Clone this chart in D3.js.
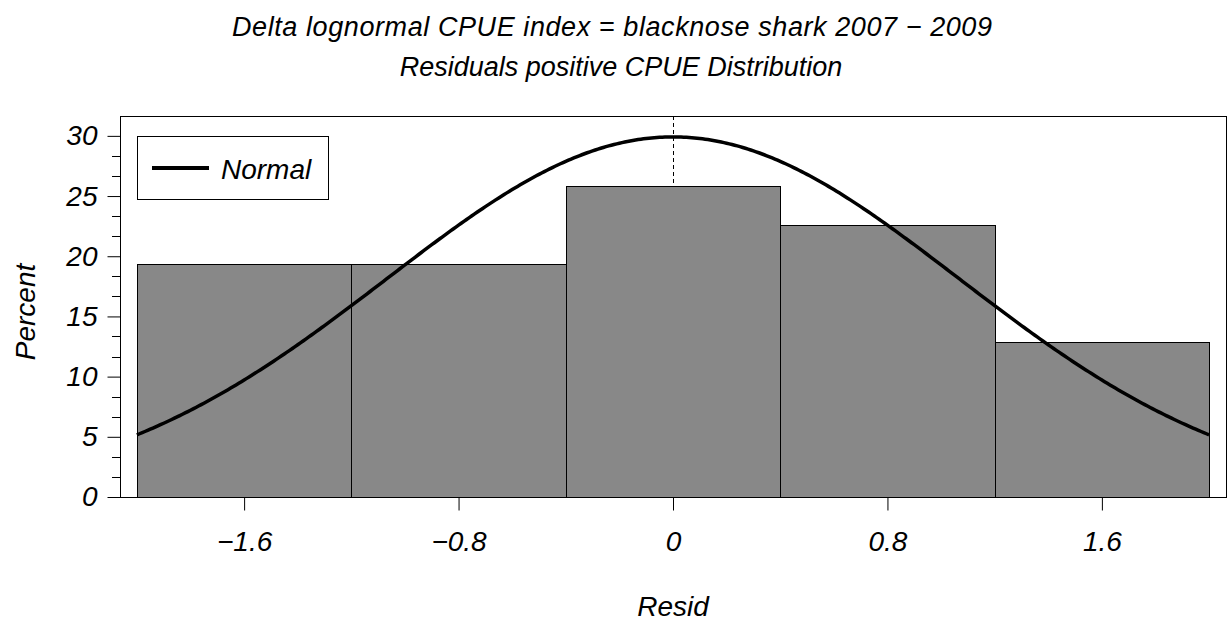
<!DOCTYPE html>
<html>
<head>
<meta charset="utf-8">
<script src="https://cdn.jsdelivr.net/npm/d3@7"></script>
<style>
  html, body { margin: 0; padding: 0; background: #fff; }
  svg text { font-family: "Liberation Sans", Arial, sans-serif; font-style: italic; fill: #000; }
</style>
</head>
<body>
<svg id="chart" width="1231" height="621"></svg>
<script>
// Histogram bins (midpoints) of residuals and their percentages
const binMids = [-1.6, -0.8, 0, 0.8, 1.6];
const binWidth = 0.8;
const percents = [19.35, 19.35, 25.81, 22.58, 12.90];

// Fitted normal curve parameters
const normalMu = 0;
const normalSigma = 1.067;

// Axis ticks
const xTicks = [-1.6, -0.8, 0, 0.8, 1.6];
const yTicks = [0, 5, 10, 15, 20, 25, 30];
const yMinorStep = 5 / 3;

const titleLines = ["Delta lognormal CPUE index = blacknose shark 2007 \u2212 2009",
                    "Residuals positive CPUE Distribution"];
const xLabel = "Resid";
const yLabel = "Percent";
const legendLabel = "Normal";

const svg = d3.select("#chart");
const plotL = 120, plotR = 1226, plotT = 116, plotB = 497;

const x = d3.scaleLinear().domain([-2.063, 2.063]).range([plotL, plotR]);
const y = d3.scaleLinear().domain([0, 31.65]).range([plotB, plotT]);

const fmt = v => (v < 0 ? "\u2212" : "") + String(Math.abs(v));

// Reference line at zero (behind bars)
svg.append("line")
  .attr("x1", Math.round(x(normalMu)) + 0.5).attr("x2", Math.round(x(normalMu)) + 0.5)
  .attr("y1", plotT).attr("y2", plotB)
  .attr("stroke", "#000").attr("stroke-width", 1)
  .attr("stroke-dasharray", "4,3");

// Bars
svg.append("g").selectAll("rect")
  .data(binMids.map((m, i) => ({ m, p: percents[i] })))
  .join("rect")
  .attr("x", d => Math.round(x(d.m - binWidth / 2)) + 0.5)
  .attr("width", d => Math.round(x(d.m + binWidth / 2)) - Math.round(x(d.m - binWidth / 2)))
  .attr("y", d => Math.round(y(d.p)) + 0.5)
  .attr("height", d => Math.round(y(0)) - Math.round(y(d.p)))
  .attr("fill", "#888888")
  .attr("stroke", "#000")
  .attr("stroke-width", 1);

// Normal density scaled to percent per bin
const lo = binMids[0] - binWidth / 2, hi = binMids[binMids.length - 1] + binWidth / 2;
const normalPts = d3.range(0, 401).map(i => {
  const v = lo + (hi - lo) * i / 400;
  const z = (v - normalMu) / normalSigma;
  return [v, 100 * binWidth * Math.exp(-0.5 * z * z) / (normalSigma * Math.sqrt(2 * Math.PI))];
});
svg.append("path")
  .datum(normalPts)
  .attr("fill", "none")
  .attr("stroke", "#000")
  .attr("stroke-width", 3.5)
  .attr("d", d3.line().x(d => x(d[0])).y(d => y(d[1])));

// Frame
svg.append("rect")
  .attr("x", plotL + 0.5).attr("y", plotT + 0.5)
  .attr("width", plotR - plotL).attr("height", plotB - plotT)
  .attr("fill", "none").attr("stroke", "#000").attr("stroke-width", 1);

// Y axis
const yAxis = d3.axisLeft(y).tickValues(yTicks).tickSize(13).tickPadding(10).tickFormat(fmt);
const gy = svg.append("g").attr("transform", `translate(${plotL + 0.5},0)`).call(yAxis);
gy.select(".domain").remove();
gy.attr("font-family", null).attr("font-size", null);
gy.selectAll("text").attr("font-size", 28);
const yMinor = d3.range(0, 30.01, yMinorStep).filter(v => Math.abs(v / 5 - Math.round(v / 5)) > 1e-6);
svg.append("g").selectAll("line").data(yMinor).join("line")
  .attr("x1", plotL - 8).attr("x2", plotL)
  .attr("y1", d => Math.round(y(d)) + 0.5).attr("y2", d => Math.round(y(d)) + 0.5)
  .attr("stroke", "#000");

// X axis
const xAxis = d3.axisBottom(x).tickValues(xTicks).tickSize(13).tickPadding(12).tickFormat(fmt);
const gx = svg.append("g").attr("transform", `translate(0,${plotB + 0.5})`).call(xAxis);
gx.select(".domain").remove();
gx.attr("font-family", null).attr("font-size", null);
gx.selectAll("text").attr("font-size", 28).attr("dy", "1em");

// Axis labels
svg.append("text").attr("x", x(0)).attr("y", 616)
  .attr("text-anchor", "middle").attr("font-size", 28).text(xLabel);
svg.append("text").attr("transform", "translate(35,312) rotate(-90)")
  .attr("text-anchor", "middle").attr("font-size", 28).text(yLabel);

// Titles
svg.append("text").attr("x", 612).attr("y", 36)
  .attr("text-anchor", "middle").attr("font-size", 27)
  .attr("textLength", 760).attr("lengthAdjust", "spacing").text(titleLines[0]);
svg.append("text").attr("x", 621).attr("y", 76)
  .attr("text-anchor", "middle").attr("font-size", 27).text(titleLines[1]);

// Legend
const lg = svg.append("g");
lg.append("rect").attr("x", 137.5).attr("y", 136.5).attr("width", 191).attr("height", 63)
  .attr("fill", "#fff").attr("stroke", "#000");
lg.append("line").attr("x1", 152).attr("x2", 209).attr("y1", 168).attr("y2", 168)
  .attr("stroke", "#000").attr("stroke-width", 4);
lg.append("text").attr("x", 221).attr("y", 179).attr("font-size", 28).text(legendLabel);
</script>
</body>
</html>
